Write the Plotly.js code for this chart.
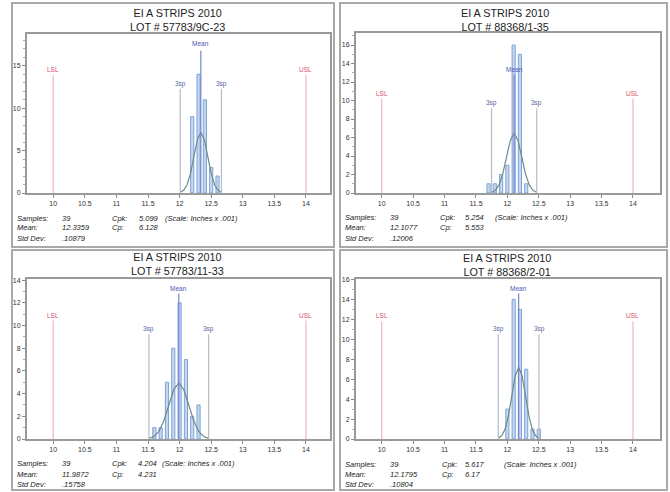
<!DOCTYPE html>
<html><head><meta charset="utf-8">
<script src="https://cdn.plot.ly/plotly-3.0.1.min.js"></script>
<style>html,body{margin:0;padding:0;background:#fff}#chart{width:670px;height:492px}</style>
</head><body><div id="chart"></div>
<script>
// ---------- data ----------
const chartTitle = "EI A STRIPS 2010";
const lots = ["LOT # 57783/9C-23", "LOT # 88368/1-35", "LOT # 57783/11-33", "LOT # 88368/2-01"];
const LSL = 10, USL = 14;
const samples = ["39", "39", "39", "39"];
const meanText = ["12.3359", "12.1077", "11.9872", "12.1795"];
const stdText = [".10879", ".12006", ".15758", ".10804"];
const cpkText = ["5.099", "5.254", "4.204", "5.617"];
const cpText = ["6.128", "5.553", "4.231", "6.17"];
const means = [12.3359, 12.1077, 11.9872, 12.1795];
const minus3s = [12.0095, 11.7475, 11.5145, 11.8554];
const plus3s = [12.6623, 12.4679, 12.4599, 12.5036];
const xTicks = [10, 10.5, 11, 11.5, 12, 12.5, 13, 13.5, 14];

const bins1 = [12.2, 12.3, 12.4, 12.5, 12.6];
const counts1 = [9, 14, 11, 3, 2];
const bins2 = [11.7, 11.8, 11.9, 12.0, 12.1, 12.2, 12.3];
const counts2 = [1, 1, 2, 3, 16, 15, 1];
const bins3 = [11.6, 11.7, 11.8, 11.9, 12.0, 12.1, 12.2, 12.3];
const counts3 = [1, 1, 5, 8, 12, 7, 2, 3];
const bins4 = [12.0, 12.1, 12.2, 12.3, 12.4, 12.5];
const counts4 = [3, 14, 13, 7, 1, 1];

const curveX1 = [12.010, 12.064, 12.118, 12.173, 12.227, 12.282, 12.336, 12.390, 12.445, 12.499, 12.554, 12.608, 12.662];
const curveY1 = [0.08, 0.31, 0.97, 2.32, 4.34, 6.31, 7.15, 6.31, 4.34, 2.32, 0.97, 0.31, 0.08];
const curveX2 = [11.748, 11.808, 11.868, 11.928, 11.988, 12.048, 12.108, 12.168, 12.228, 12.288, 12.348, 12.408, 12.468];
const curveY2 = [0.07, 0.28, 0.88, 2.10, 3.93, 5.72, 6.48, 5.72, 3.93, 2.10, 0.88, 0.28, 0.07];
const curveX3 = [11.515, 11.593, 11.672, 11.751, 11.830, 11.908, 11.987, 12.066, 12.145, 12.224, 12.302, 12.381, 12.460];
const curveY3 = [0.05, 0.22, 0.67, 1.60, 3.00, 4.36, 4.94, 4.36, 3.00, 1.60, 0.67, 0.22, 0.05];
const curveX4 = [11.855, 11.909, 11.963, 12.017, 12.072, 12.126, 12.180, 12.234, 12.288, 12.342, 12.396, 12.450, 12.504];
const curveY4 = [0.08, 0.32, 0.97, 2.34, 4.37, 6.35, 7.20, 6.35, 4.37, 2.34, 0.97, 0.32, 0.08];

// ---------- layout helpers ----------
const W = 670, H = 492;
const px = v => v / W, py = v => 1 - v / H;
const binsAll = [bins1, bins2, bins3, bins4];
const countsAll = [counts1, counts2, counts3, counts4];
const cxAll = [curveX1, curveX2, curveX3, curveX4];
const cyAll = [curveY1, curveY2, curveY3, curveY4];

const panels = [
  {box: [12, 3, 334, 247], plot: [27, 34, 330, 193], xr: [9.585, 14.38], yr: [0, 18.75], dt: 5,
   titleX: 177, titleY: 19.5, statY: [218, 228, 238], statX: [15, 60, 110, 137, 163],
   fr: {lslTop: 0.74, lslLab: 0.775, sTop: 0.655, sLab: 0.685, mTop: 0.895, mLab: 0.94}},
  {box: [340, 3, 667, 247], plot: [356, 33, 660, 193], xr: [9.59, 14.43], yr: [0, 17.3], dt: 2,
   titleX: 505, titleY: 19.5, statY: [217, 227.5, 238], statX: [343, 388, 438, 463, 493],
   fr: {lslTop: 0.59, lslLab: 0.625, sTop: 0.53, sLab: 0.56, mTop: 0.74, mLab: 0.77}},
  {box: [12, 250, 334, 490], plot: [27, 279, 330, 439], xr: [9.585, 14.38], yr: [0, 14.1], dt: 2,
   titleX: 177, titleY: 264, statY: [463, 474, 484], statX: [15, 60, 110, 136, 160],
   fr: {lslTop: 0.74, lslLab: 0.775, sTop: 0.655, sLab: 0.685, mTop: 0.91, mLab: 0.94}},
  {box: [340, 250, 667, 490], plot: [356, 279, 660, 439], xr: [9.59, 14.43], yr: [0, 16.05], dt: 2,
   titleX: 507, titleY: 265, statY: [464, 474, 484], statX: [343, 388, 440, 463, 502],
   fr: {lslTop: 0.735, lslLab: 0.775, sTop: 0.655, sLab: 0.69, mTop: 0.91, mLab: 0.94}}
];

const FONT = "Liberation Sans, Arial, sans-serif";
const traces = [], shapes = [], annotations = [];
const layout = {
  width: W, height: H, margin: {l: 0, r: 0, t: 0, b: 0},
  paper_bgcolor: "#ffffff", plot_bgcolor: "#ffffff", showlegend: false,
  font: {family: FONT, color: "#333"}, bargap: 0
};

panels.forEach((p, i) => {
  const n = i === 0 ? "" : String(i + 1);
  const xa = "x" + n, ya = "y" + n;
  layout["xaxis" + n] = {
    domain: [px(p.plot[0]), px(p.plot[2])], range: p.xr, anchor: ya,
    tickvals: xTicks, ticktext: xTicks.map(String), ticks: "outside", ticklen: 3, tickcolor: "#888",
    showline: true, mirror: true, linecolor: "#9a9a9a", linewidth: 2, showgrid: false, zeroline: false,
    tickfont: {size: 7, color: "#333", family: FONT}, fixedrange: true
  };
  layout["yaxis" + n] = {
    domain: [py(p.plot[3]), py(p.plot[1])], range: p.yr, anchor: xa, dtick: p.dt, tick0: 0,
    ticks: "outside", ticklen: 3, tickcolor: "#888",
    minor: {dtick: 1, ticks: "outside", ticklen: 2, tickcolor: "#aaa"},
    showline: true, mirror: true, linecolor: "#9a9a9a", linewidth: 2, showgrid: false, zeroline: false,
    tickfont: {size: 7, color: "#333", family: FONT}, fixedrange: true
  };
  // histogram bars
  traces.push({type: "bar", x: binsAll[i], y: countsAll[i], width: 0.05, xaxis: xa, yaxis: ya,
    marker: {color: "#c3d7f1", line: {color: "#7fa3d6", width: 1}}, hoverinfo: "skip"});
  // normal curve
  traces.push({type: "scatter", mode: "lines", x: cxAll[i], y: cyAll[i], xaxis: xa, yaxis: ya,
    line: {color: "#6f8b86", width: 1.2}, hoverinfo: "skip"});

  const yd = ya + " domain";
  const vline = (x, top, color, w) => shapes.push({type: "line", xref: xa, yref: yd, x0: x, x1: x, y0: 0, y1: top,
    line: {color: color, width: w}});
  vline(LSL, p.fr.lslTop, "#f1b6c3", 1.2);
  vline(USL, p.fr.lslTop, "#f1b6c3", 1.2);
  vline(minus3s[i], p.fr.sTop, "#b9bcc6", 1.2);
  vline(plus3s[i], p.fr.sTop, "#b9bcc6", 1.2);
  vline(means[i], p.fr.mTop, "#7584cf", 1.2);
  const lab = (x, y, t, c) => annotations.push({xref: xa, yref: yd, x: x, y: y, text: t, showarrow: false,
    xanchor: "center", yanchor: "middle", font: {size: 6.5, color: c, family: FONT}});
  lab(LSL, p.fr.lslLab, "LSL", "#d8506a");
  lab(USL, p.fr.lslLab, "USL", "#d8506a");
  lab(minus3s[i], p.fr.sLab, "3sp", "#56669e");
  lab(plus3s[i], p.fr.sLab, "3sp", "#56669e");
  lab(means[i], p.fr.mLab, "Mean", "#4a5ab2");

  // panel frame
  shapes.push({type: "rect", xref: "paper", yref: "paper", x0: px(p.box[0]), x1: px(p.box[2]),
    y0: py(p.box[3]), y1: py(p.box[1]), line: {color: "#a9a9a9", width: 2}, layer: "below"});

  // titles
  const txt = (x, y, t, size, opts) => annotations.push(Object.assign({xref: "paper", yref: "paper", x: px(x), y: py(y),
    text: t, showarrow: false, xanchor: "left", yanchor: "middle",
    font: {size: size, color: "#222", family: FONT}}, opts || {}));
  txt(p.titleX, p.titleY, chartTitle + "<br>" + lots[i], 10.8, {xanchor: "center", align: "center"});

  // statistics block
  const it = s => "<i>" + s + "</i>";
  const sx = p.statX, sy = p.statY;
  const fs = 7.5;
  txt(sx[0], sy[0], it("Samples:"), fs);
  txt(sx[1], sy[0], it(samples[i]), fs);
  txt(sx[0], sy[1], it("Mean:"), fs);
  txt(sx[1], sy[1], it(meanText[i]), fs);
  txt(sx[0], sy[2], it("Std Dev:"), fs);
  txt(sx[1], sy[2], it(stdText[i]), fs);
  txt(sx[2], sy[0], it("Cpk:"), fs);
  txt(sx[3], sy[0], it(cpkText[i]), fs);
  txt(sx[2], sy[1], it("Cp:"), fs);
  txt(sx[3], sy[1], it(cpText[i]), fs);
  txt(sx[4], sy[0], it("(Scale: Inches x .001)"), fs);
});

layout.shapes = shapes;
layout.annotations = annotations;
Plotly.newPlot("chart", traces, layout, {staticPlot: true, displayModeBar: false});
</script></body></html>
